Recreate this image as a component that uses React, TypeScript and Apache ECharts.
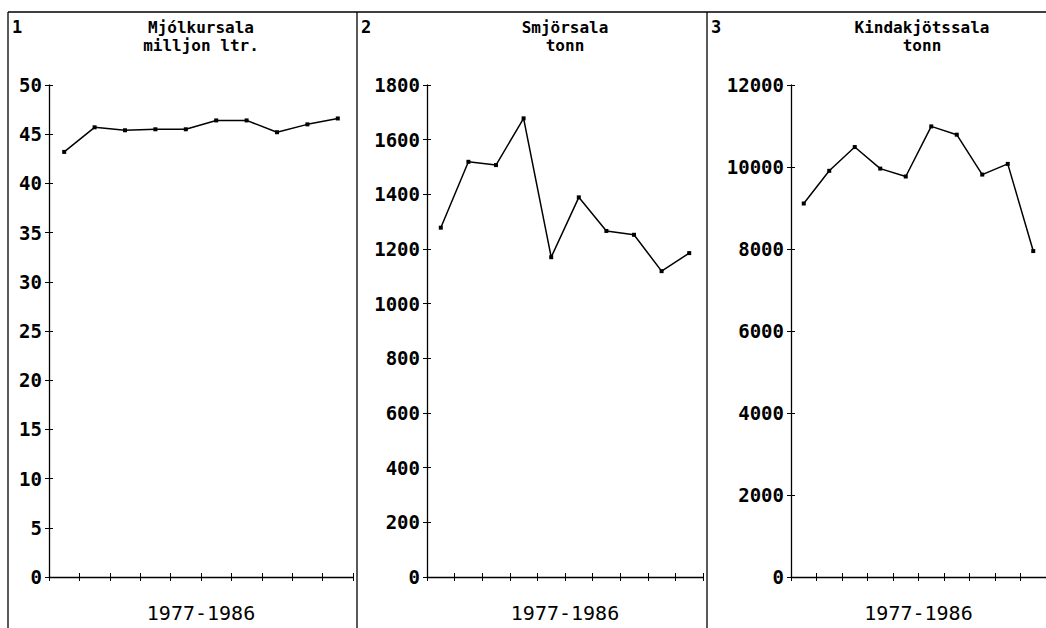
import React, { useEffect, useRef } from "react";
import * as echarts from "echarts";

const years = ["1977", "1978", "1979", "1980", "1981", "1982", "1983", "1984", "1985", "1986"];
const milk = [43.2, 45.7, 45.4, 45.5, 45.5, 46.4, 46.4, 45.2, 46.0, 46.6];
const butter = [1278, 1519, 1507, 1678, 1170, 1389, 1266, 1252, 1119, 1185];
const meat = [9110, 9907, 10487, 9961, 9768, 10990, 10788, 9815, 10076, 7950];

const panelNumbers = ["1", "2", "3"];
const titleLine1 = ["Mjólkursala", "Smjörsala", "Kindakjötssala"];
const titleLine2 = ["milljon ltr.", "tonn", "tonn"];
const xName = "1977-1986";
const yMax = [50, 1800, 12000];
const yStep = [5, 200, 2000];
const seriesData = [milk, butter, meat];

const FONT = "'DejaVu Sans Mono', monospace";

export default function App() {
  const ref = useRef<HTMLDivElement>(null);
  useEffect(() => {
    if (!ref.current) return;
    const chart = echarts.init(ref.current, null, { renderer: "svg" });
    const grids = [
      { left: 49, width: 304, top: 85, bottom: 44 },
      { left: 427, width: 276, top: 85, bottom: 44 },
      { left: 791, width: 262, top: 85, bottom: 44 },
    ];
    const panelLeft = [8, 357, 707];
    const xAxes: any[] = [];
    const yAxes: any[] = [];
    const series: any[] = [];
    const titleArr: any[] = [];
    grids.forEach((g, i) => {
      const axisLine = { show: true, lineStyle: { color: "#000", width: 1.3 } };
      xAxes.push({
        type: "category",
        gridIndex: i,
        data: years,
        boundaryGap: true,
        axisLine,
        axisTick: { show: true, interval: 0, length: 4, lineStyle: { color: "#000", width: 1 } },
        axisLabel: { show: false, interval: 0 },
        splitLine: { show: false },
        name: xName,
        nameLocation: "middle",
        nameGap: 26,
        nameTextStyle: { fontFamily: FONT, fontSize: 20, color: "#000" },
      });
      xAxes.push({
        type: "category",
        gridIndex: i,
        data: years,
        position: "bottom",
        boundaryGap: true,
        axisLine: { show: false },
        axisTick: { show: true, interval: 0, inside: true, length: 4, lineStyle: { color: "#000", width: 1 } },
        axisLabel: { show: false, interval: 0 },
        splitLine: { show: false },
      });
      yAxes.push({
        type: "value",
        gridIndex: i,
        min: 0,
        max: yMax[i],
        interval: yStep[i],
        axisLine,
        axisTick: { show: true, length: 4, lineStyle: { color: "#000", width: 1 } },
        axisLabel: {
          show: true,
          margin: 7,
          fontFamily: FONT,
          fontWeight: "bold",
          fontSize: 19,
          color: "#000",
          formatter: (v: number) => String(v),
        },
        splitLine: { show: false },
      });
      yAxes.push({
        type: "value",
        gridIndex: i,
        min: 0,
        max: yMax[i],
        interval: yStep[i],
        position: "left",
        axisLine: { show: false },
        axisTick: { show: true, inside: true, length: 4, lineStyle: { color: "#000", width: 1 } },
        axisLabel: { show: false },
        splitLine: { show: false },
      });
      series.push({
        type: "line",
        xAxisIndex: i * 2,
        yAxisIndex: i * 2,
        data: seriesData[i],
        symbol: "rect",
        symbolSize: 4,
        lineStyle: { color: "#000", width: 1.5 },
        itemStyle: { color: "#000" },
      });
      const ts = {
        fontFamily: FONT,
        fontWeight: "bold",
        fontSize: 16,
        lineHeight: 16,
        color: "#000",
      };
      titleArr.push({
        text: titleLine1[i],
        left: g.left + g.width / 2,
        top: 19,
        textAlign: "center",
        padding: 0,
        textStyle: ts,
      });
      titleArr.push({
        text: titleLine2[i],
        left: g.left + g.width / 2,
        top: 37,
        textAlign: "center",
        padding: 0,
        textStyle: ts,
      });
      titleArr.push({
        text: panelNumbers[i],
        left: panelLeft[i] + 4,
        top: 18,
        padding: 0,
        textStyle: { fontFamily: FONT, fontWeight: "bold", fontSize: 17, color: "#000" },
      });
    });

    const borders: any[] = [
      { type: "line", shape: { x1: 8, y1: 12, x2: 1046, y2: 12 }, style: { stroke: "#000", lineWidth: 1.3 } },
    ];
    panelLeft.forEach((x) => {
      borders.push({
        type: "line",
        shape: { x1: x, y1: 12, x2: x, y2: 628 },
        style: { stroke: "#000", lineWidth: 1.3 },
      });
    });

    chart.setOption({
      animation: false,
      backgroundColor: "#fff",
      title: titleArr,
      grid: grids,
      xAxis: xAxes,
      yAxis: yAxes,
      series,
      graphic: borders,
    });
    return () => chart.dispose();
  }, []);
  return (
    <div
      ref={ref}
      style={{ position: "fixed", left: 0, top: 0, width: 1046, height: 628, background: "#fff" }}
    />
  );
}
